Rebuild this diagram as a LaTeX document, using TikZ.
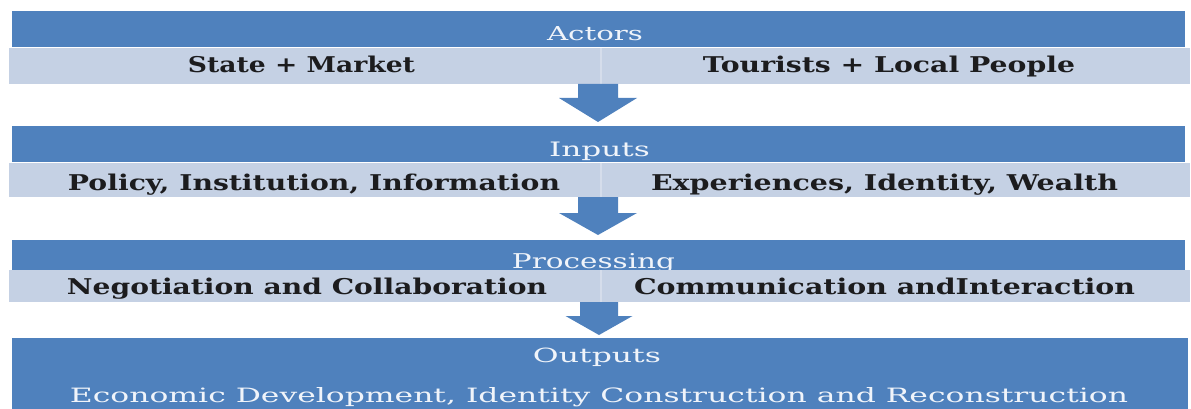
\documentclass[tikz,border=0pt]{standalone}
\usepackage{fontspec}
\setmainfont{DejaVu Serif}
\usetikzlibrary{calc}
\definecolor{bandblue}{RGB}{79,129,189}
\definecolor{barlight}{RGB}{197,209,228}
\definecolor{barline}{RGB}{213,221,235}
\definecolor{bartext}{RGB}{28,28,30}
\definecolor{headtext}{RGB}{240,244,250}
\tikzset{
  band/.style={fill=bandblue, draw=none, inner sep=0pt, anchor=north west},
  lightbar/.style={fill=barlight, draw=none, inner sep=0pt, anchor=north west},
  divider/.style={draw=barline, line width=2.5pt},
  headlbl/.style={text=headtext, inner sep=0pt, anchor=base},
  barlbl/.style={text=bartext, inner sep=0pt, anchor=base, font=\bfseries},
  blk/.style={fill=bandblue, draw=none},
}
\newcommand\fitto[3]{\resizebox{#1pt}{#2pt}{#3}}
% from, to, shaft half width, head half width, head length
\newcommand\blockarrow[5]{%
  \fill[blk] let \p1=(#1), \p2=(#2) in
    (\x1-#3pt,\y1) -- (\x1+#3pt,\y1) -- (\x1+#3pt,\y2+#5pt) -- (\x1+#4pt,\y2+#5pt)
    -- (\x1,\y2) -- (\x1-#4pt,\y2+#5pt) -- (\x1-#3pt,\y2+#5pt) -- cycle;}
\begin{document}
\begin{tikzpicture}[x=1pt,y=-1pt]
\useasboundingbox (0,0) rectangle (1191,409);
\clip (0,0) rectangle (1191,409);

% ---------- Actors ----------
\node[band, minimum width=1173pt, minimum height=36pt] (b1) at (12,11) {};
\node[headlbl] (h1) at (595,41) {\fitto{96}{14}{Actors}};
\node[lightbar, minimum width=1181pt, minimum height=36pt] (l1) at (9,48) {};
\draw[divider] ($(l1.north west)+(592,0)$) -- ($(l1.south west)+(592,0)$);
\node[barlbl] (t1a) at (301.5,72.5) {\fitto{227}{16.5}{State + Market}};
\node[barlbl] (t1b) at (889,72.5) {\fitto{372}{16.5}{Tourists + Local People}};

% ---------- Inputs ----------
\node[band, minimum width=1173pt, minimum height=36pt] (b2) at (12,126) {};
\node[headlbl] (h2) at (599.5,157) {\fitto{101}{14.5}{Inputs}};
\node[lightbar, minimum width=1181pt, minimum height=34pt] (l2) at (9,163) {};
\draw[divider] ($(l2.north west)+(592,0)$) -- ($(l2.south west)+(592,0)$);
\begin{scope}
  \clip (l2.north west) rectangle (l2.south east);
  \node[barlbl] (t2a) at (314,190) {\fitto{492}{16.5}{Policy, Institution, Information}};
  \node[barlbl] (t2b) at (884.5,190) {\fitto{467}{16.5}{Experiences, Identity, Wealth}};
\end{scope}

% ---------- Processing ----------
\node[band, minimum width=1173pt, minimum height=30pt] (b3) at (12,240) {};
\node[headlbl] (h3) at (593.5,268) {\fitto{163}{15}{Processing}};
\node[lightbar, minimum width=1181pt, minimum height=32pt] (l3) at (9,270) {};
\draw[divider] ($(l3.north west)+(592,0)$) -- ($(l3.south west)+(592,0)$);
\node[barlbl] (t3a) at (307,294) {\fitto{480}{16.5}{Negotiation and Collaboration}};
\node[barlbl] (t3b) at (884.5,294) {\fitto{501}{16.5}{Communication andInteraction}};

% ---------- Outputs ----------
\node[band, minimum width=1176pt, minimum height=80pt] (b4) at (12,338) {};
\node[headlbl] (h4) at (597,362) {\fitto{128}{14.5}{Outputs}};
\node[headlbl] (t4) at (599,402) {\fitto{1058}{15}{Economic Development, Identity Construction and Reconstruction}};

% ---------- arrows ----------
\coordinate (a1s) at (598,84);  \coordinate (a1e) at (598,122);
\coordinate (a2s) at (598,197); \coordinate (a2e) at (598,235);
\coordinate (a3s) at (599,302); \coordinate (a3e) at (599,335);
\blockarrow{a1s}{a1e}{20}{39}{24}
\blockarrow{a2s}{a2e}{20}{39}{22}
\blockarrow{a3s}{a3e}{19}{33.5}{19}
\end{tikzpicture}
\end{document}
